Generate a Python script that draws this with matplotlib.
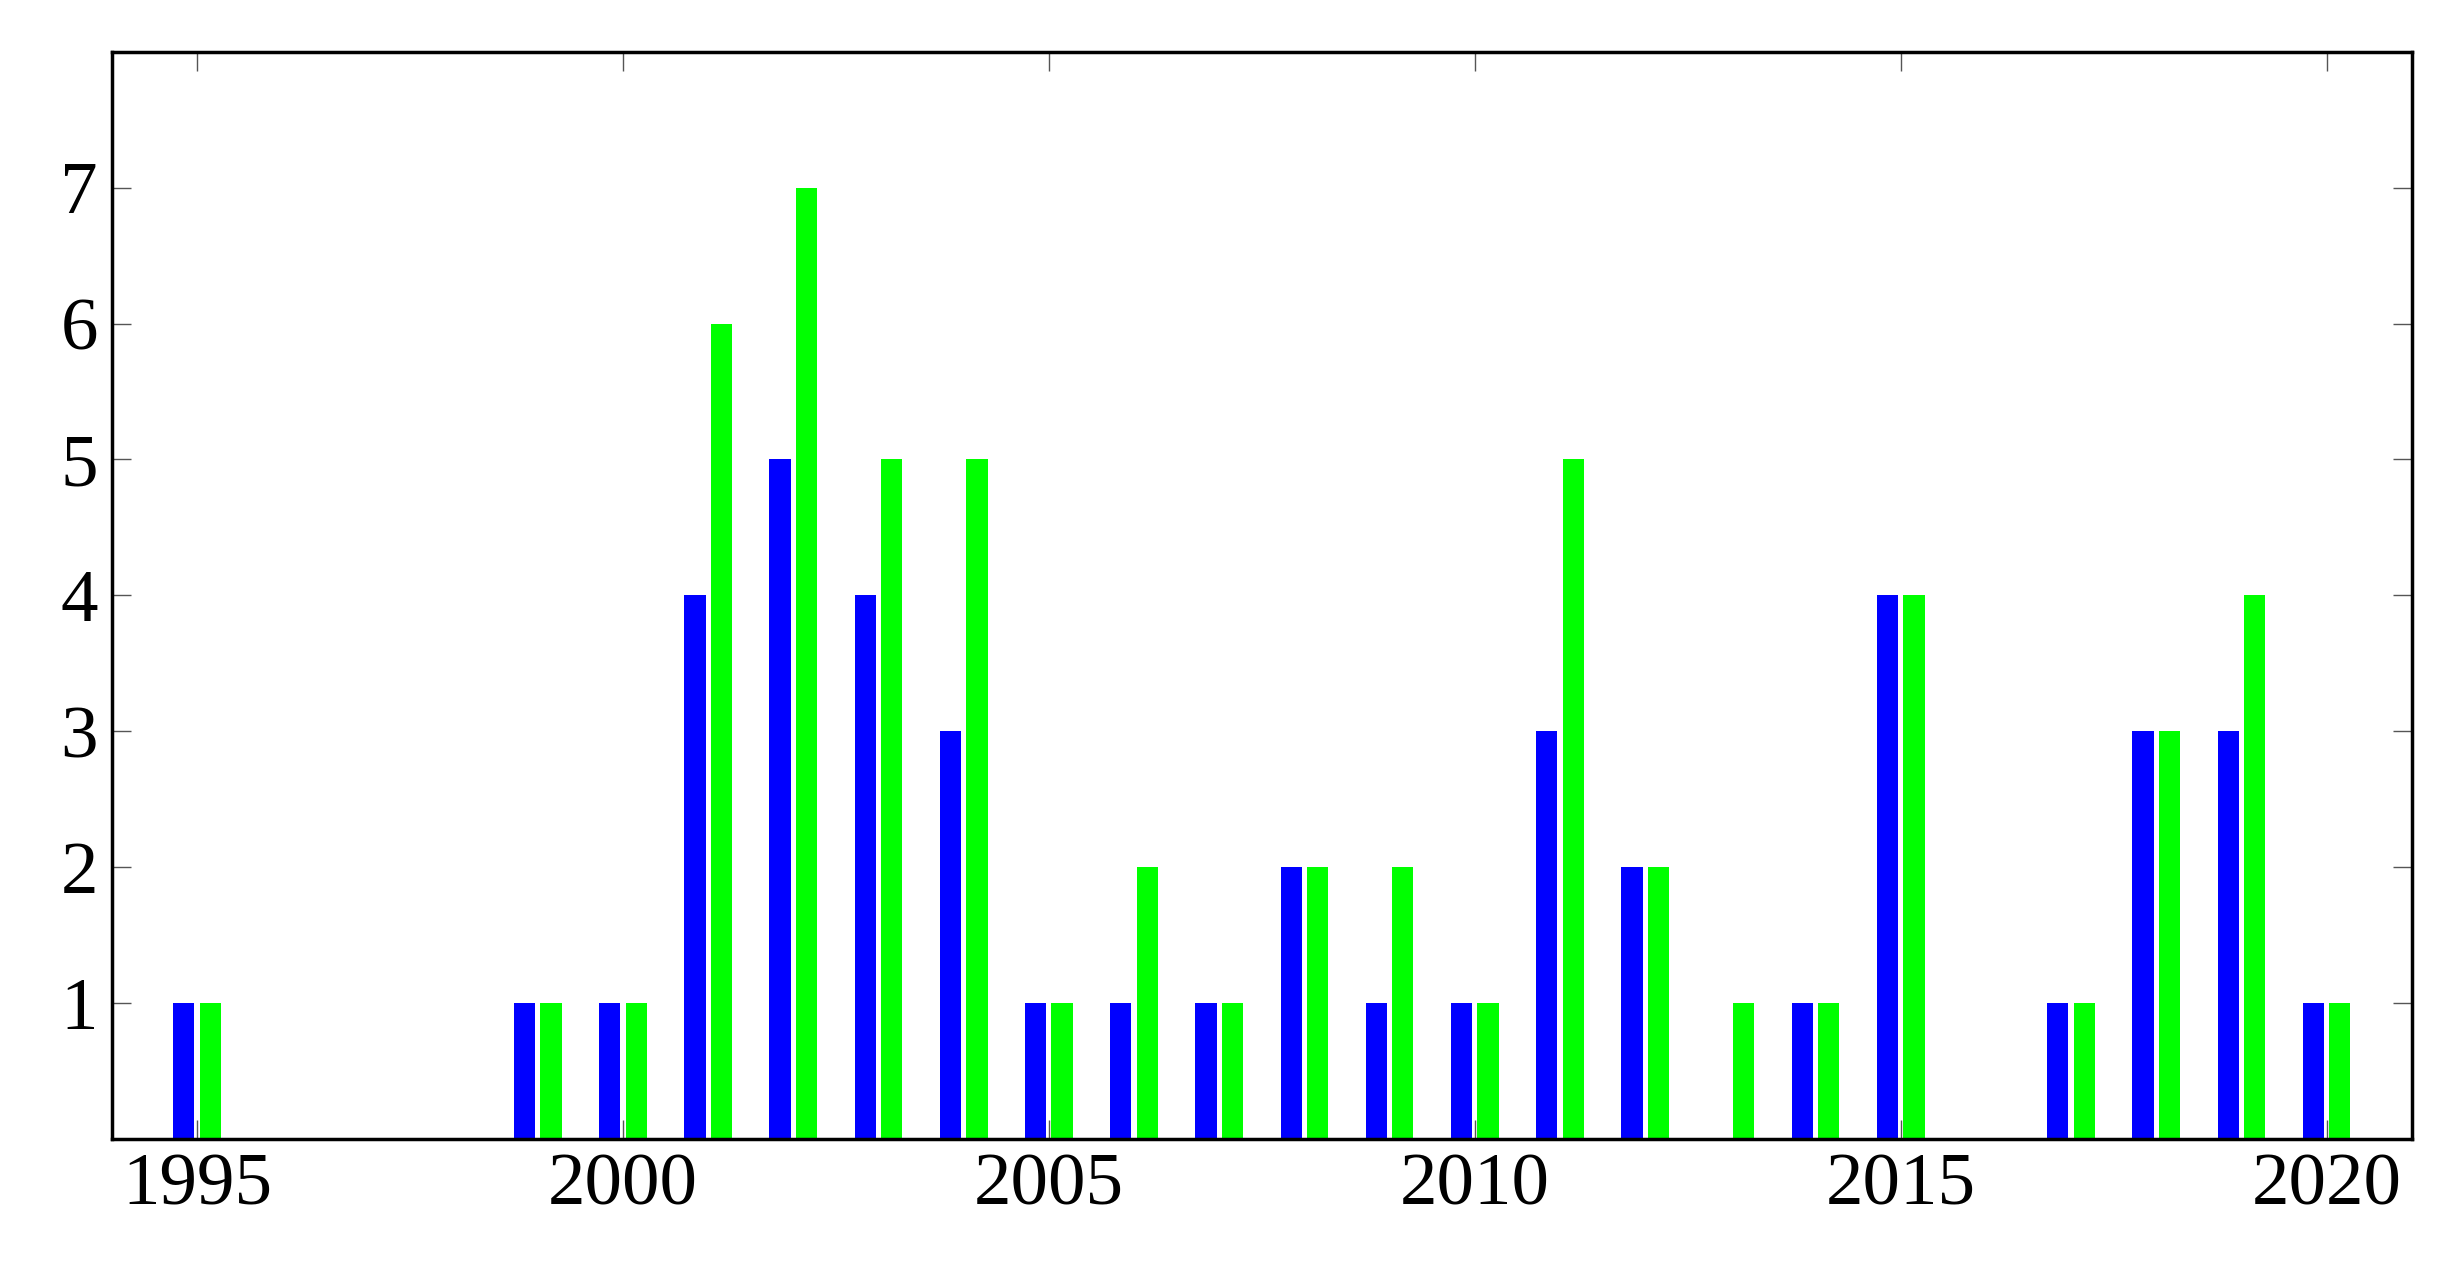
import numpy as np
import matplotlib.pyplot as plt

years = [1995, 1999, 2000, 2001, 2002, 2003, 2004, 2005, 2006, 2007, 2008, 2009,
         2010, 2011, 2012, 2013, 2014, 2015, 2016, 2017, 2018, 2019, 2020]
blue_vals = [1, 1, 1, 4, 5, 4, 3, 1, 1, 1, 2, 1, 1, 3, 2, 0, 1, 4, 0, 1, 3, 3, 1]
green_vals = [1, 1, 1, 6, 7, 5, 5, 1, 2, 1, 2, 2, 1, 5, 2, 1, 1, 4, 0, 1, 3, 4, 1]
xticks = [1995, 2000, 2005, 2010, 2015, 2020]
yticks = [1, 2, 3, 4, 5, 6, 7]

plt.rcParams['font.family'] = ['Liberation Serif', 'DejaVu Serif']

fig = plt.figure(figsize=(24.48, 12.62), dpi=100)
ax = fig.add_axes([0.0457, 0.0974, 0.9395, 0.8616])

x = np.array(years)
w = 0.25
ax.bar(x - 0.155, blue_vals, width=w, color='#0000ff', linewidth=0)
ax.bar(x + 0.155, green_vals, width=w, color='#00ff00', linewidth=0)

ax.set_xlim(1994.0, 2021.0)
ax.set_ylim(0, 8)
ax.set_xticks(xticks)
ax.set_yticks(yticks)
ax.tick_params(direction='in', top=True, right=True, length=14, width=1,
               labelsize=54, color='#555555', pad=10)
for s in ax.spines.values():
    s.set_linewidth(2.5)

fig.savefig('out.png', dpi=100)
